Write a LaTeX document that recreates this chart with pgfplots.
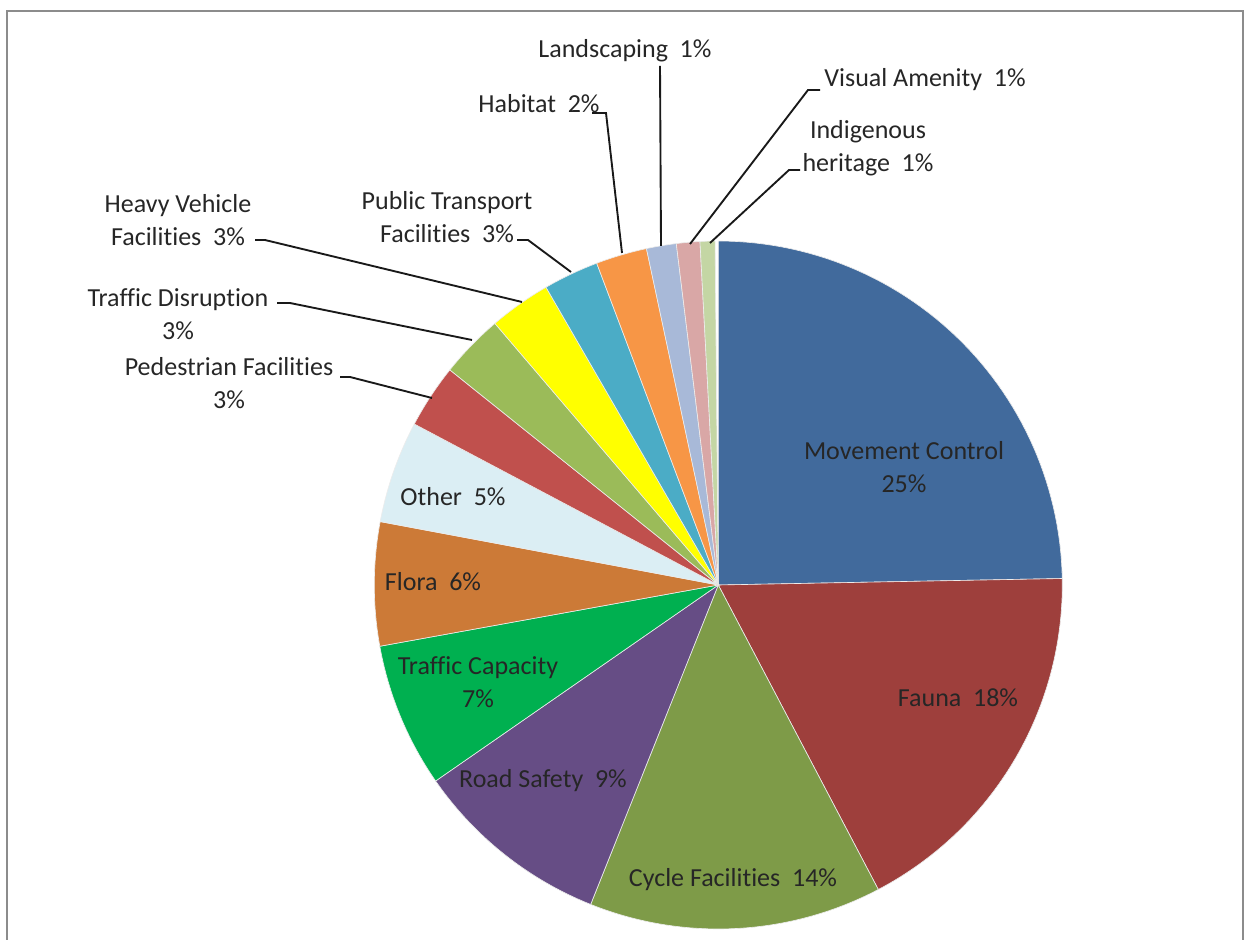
\documentclass[border=0pt]{standalone}
\usepackage{fontspec}
\setmainfont{Carlito}[Ligatures=NoCommon]
\usepackage{pgfplots}
\pgfplotsset{compat=1.18}
\definecolor{mc}{HTML}{416A9C}
\definecolor{fa}{HTML}{9E3F3C}
\definecolor{cy}{HTML}{7E9B48}
\definecolor{rs}{HTML}{664D85}
\definecolor{tc}{HTML}{00B050}
\definecolor{fl}{HTML}{CC7A37}
\definecolor{ot}{HTML}{DBEEF4}
\definecolor{pe}{HTML}{C0504D}
\definecolor{td}{HTML}{9BBB59}
\definecolor{hv}{HTML}{FFFF00}
\definecolor{pt}{HTML}{4BACC6}
\definecolor{ha}{HTML}{F79646}
\definecolor{la}{HTML}{A8B9D8}
\definecolor{va}{HTML}{D9A7A6}
\definecolor{ih}{HTML}{C4D6A4}
\definecolor{frame}{HTML}{8C8C8C}
% centre and radius of the pie, in pixel units of the axis
\def\cx{718.3}
\def\cy{355}
\def\rr{344}
\def\curang{90}
\newcommand\slice[2]{%
  \pgfmathsetmacro\endang{\curang-3.6*#1}%
  \edef\temp{\noexpand\addplot[draw=white!85!gray, line width=0.25pt, fill=#2,
     domain=\endang:\curang, samples=60]
     ({\cx+\rr*cos(x)},{\cy+\rr*sin(x)}) -- (\cx,\cy) -- cycle;}%
  \temp
  \global\let\curang\endang}
\begin{document}
\begin{tikzpicture}
\begin{axis}[scale only axis, width=500pt, height=376pt,
  xmin=0, xmax=1250, ymin=0, ymax=940, hide axis, clip=false]
\path (0,0) rectangle (1250,940);
\draw[frame, line width=0.8pt] (7,0) -- (7,929) -- (1243,929) -- (1243,0);
% values in percent, clockwise from 12 o'clock
\slice{24.7}{mc}
\slice{17.6}{fa}
\slice{13.75}{cy}
\slice{9.3}{rs}
\slice{6.8}{tc}
\slice{5.8}{fl}
\slice{4.8}{ot}
\slice{3.0}{pe}
\slice{3.0}{td}
\slice{2.9}{hv}
\slice{2.6}{pt}
\slice{2.4}{ha}
\slice{1.4}{la}
\slice{1.1}{va}
\slice{0.7}{ih}
% leader lines
\begin{scope}[black!90, line width=0.75pt]
\draw (340,563) -- (350,563) -- (432,542);
\draw (277,637) -- (290,637) -- (472,600);
\draw (255,700) -- (265,700) -- (522,638);
\draw (517,700) -- (528,700) -- (571,668);
\draw (592,827) -- (606,827) -- (622,687);
\draw (660,874) -- (661,694);
\draw (820,850) -- (808,850) -- (690,696);
\draw (800,770) -- (789,770) -- (710,697);
\end{scope}
% labels
\begin{scope}[every node/.style={font=\fontsize{10.4}{13}\selectfont, text=black!85, align=center, inner sep=0pt}]
\node at (904,473) {Movement Control\\25\%};
\node at (958,242) {Fauna\ \ 18\%};
\node at (733,60) {Cycle Facilities\ \ 14\%};
\node at (543,159) {Road Safety\ \ 9\%};
\node at (478,258) {Traffic Capacity\\7\%};
\node at (433,358) {Flora\ \ 6\%};
\node at (453,443) {Other\ \ 5\%};
\node at (229,557) {Pedestrian Facilities\\3\%};
\node at (178,626) {Traffic Disruption\\3\%};
\node at (178,720) {Heavy Vehicle\\Facilities\ \ 3\%};
\node at (447,723) {Public Transport\\Facilities\ \ 3\%};
\node at (539,836) {Habitat\ \ 2\%};
\node at (625,889) {Landscaping\ \ 1\%};
\node at (925,860) {Visual Amenity\ \ 1\%};
\node at (868,792) {Indigenous\\heritage\ \ 1\%};
\end{scope}
\end{axis}
\end{tikzpicture}
\end{document}
